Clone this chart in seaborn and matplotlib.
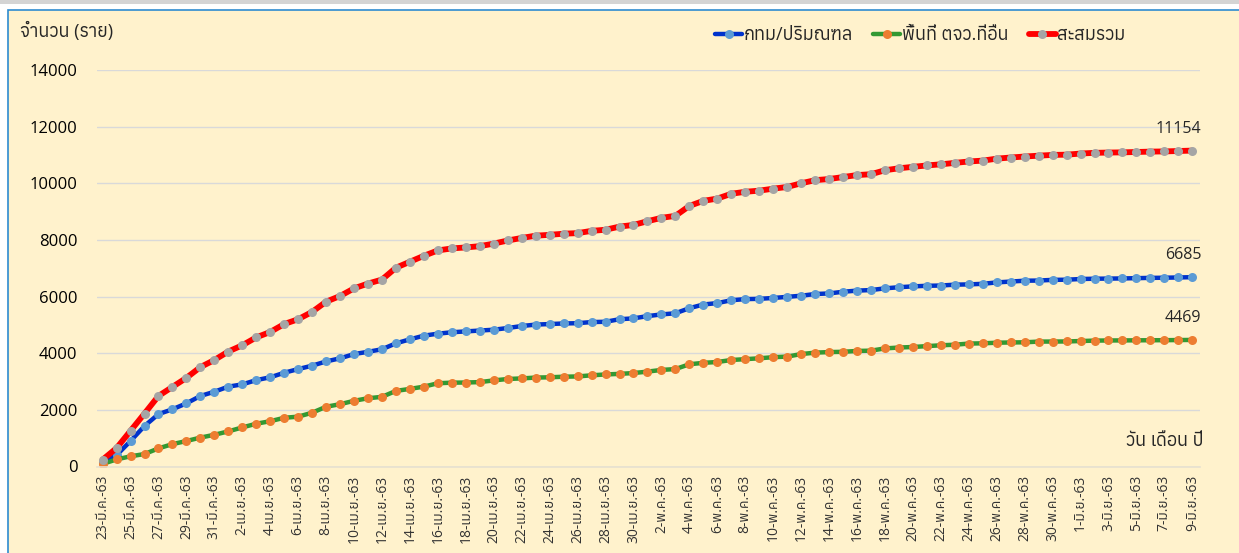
import numpy as np
import pandas as pd
import matplotlib
matplotlib.use("Agg")
import matplotlib.pyplot as plt
import matplotlib.patches as patches
from matplotlib import font_manager, ft2font
import seaborn as sns

# Date labels (every day from 23 Mar 63 to 9 Jun 63)
months = ["มี.ค.", "เม.ย.", "พ.ค.", "มิ.ย."]
month_days = [range(23, 32), range(1, 31), range(1, 32), range(1, 10)]
dates = [f"{d}-{m}-63" for m, days in zip(months, month_days) for d in days]

bkk = [150, 400, 900, 1430, 1850, 2020, 2230, 2490, 2640, 2820,
       2900, 3050, 3150, 3310, 3440, 3560, 3710, 3820, 3970, 4050,
       4140, 4350, 4490, 4620, 4690, 4740, 4770, 4800, 4830, 4890,
       4960, 5010, 5030, 5050, 5060, 5100, 5110, 5200, 5230, 5310,
       5370, 5410, 5590, 5720, 5770, 5870, 5910, 5920, 5950, 5990,
       6030, 6090, 6110, 6170, 6210, 6230, 6290, 6330, 6360, 6380,
       6390, 6420, 6430, 6450, 6500, 6530, 6560, 6565, 6590, 6595,
       6620, 6630, 6635, 6640, 6650, 6660, 6665, 6675, 6685]

other = [90, 250, 360, 440, 640, 790, 900, 1020, 1120, 1240,
         1380, 1510, 1600, 1720, 1760, 1900, 2110, 2200, 2320, 2410,
         2460, 2670, 2740, 2820, 2940, 2960, 2965, 2980, 3040, 3090,
         3110, 3140, 3150, 3170, 3180, 3220, 3250, 3270, 3300, 3350,
         3410, 3440, 3610, 3660, 3690, 3760, 3790, 3820, 3860, 3880,
         3970, 4020, 4040, 4050, 4080, 4090, 4170, 4200, 4220, 4250,
         4280, 4300, 4340, 4350, 4370, 4380, 4385, 4410, 4412, 4415,
         4430, 4445, 4450, 4452, 4455, 4458, 4460, 4465, 4469]

total = [240, 650, 1260, 1870, 2490, 2810, 3130, 3510, 3760, 4060,
         4280, 4560, 4750, 5030, 5200, 5460, 5820, 6020, 6290, 6460,
         6600, 7020, 7230, 7440, 7630, 7700, 7735, 7780, 7870, 7980,
         8070, 8150, 8180, 8220, 8240, 8320, 8360, 8470, 8530, 8660,
         8780, 8850, 9200, 9380, 9460, 9630, 9700, 9740, 9810, 9870,
         10000, 10110, 10150, 10220, 10290, 10320, 10460, 10530, 10580, 10630,
         10670, 10720, 10770, 10800, 10870, 10910, 10945, 10975, 11002, 11010,
         11050, 11075, 11085, 11092, 11105, 11118, 11125, 11140, 11154]

series_names = ["กทม/ปริมณฑล", "พื้นที่ ตจว.ที่อื่น", "สะสมรวม"]

df = pd.DataFrame({"day": np.arange(len(dates)), "date": dates,
                   series_names[0]: bkk, series_names[1]: other, series_names[2]: total})

sns.set_theme(style="white")

# find an installed font that has Thai glyphs
thai_fonts = []
for f in font_manager.fontManager.ttflist:
    try:
        if 0x0E01 in ft2font.FT2Font(f.fname).get_charmap():
            thai_fonts.append(f.name)
    except Exception:
        pass
plt.rcParams["font.family"] = ["Open Sans"] + sorted(set(thai_fonts))[:1] + ["DejaVu Sans"]

bg = "#FFF2CC"
fig = plt.figure(figsize=(12.39, 5.53), dpi=100, facecolor="white")

# chart frame
fig.patches.append(patches.Rectangle((8 / 1239, -0.02), 1.0, 1 - 10 / 553 + 0.02,
                                     transform=fig.transFigure, facecolor=bg,
                                     edgecolor="#2E8BD0", linewidth=1.2, zorder=-2))
fig.patches.append(patches.Rectangle((0, 1 - 4 / 553), 1, 4 / 553,
                                     transform=fig.transFigure, facecolor="#D4D4D4",
                                     edgecolor="none", zorder=-1))

ax = fig.add_axes([97 / 1239, 1 - 466.5 / 553, (1200 - 97) / 1239, (466.5 - 70) / 553])
ax.set_facecolor("none")

styles = [
    dict(color="#0033CC", markerfacecolor="#5B9BD5", lw=3.2),
    dict(color="#339933", markerfacecolor="#ED7D31", lw=3.2),
    dict(color="#FF0000", markerfacecolor="#A5A5A5", lw=4.2),
]

for name, st in zip(series_names, styles):
    sns.lineplot(data=df, x="day", y=name, ax=ax, label=name, color=st["color"],
                 linewidth=st["lw"], marker="o", markersize=6.5,
                 markerfacecolor=st["markerfacecolor"],
                 markeredgecolor=st["markerfacecolor"], markeredgewidth=0)

ax.set_xlim(-0.4, len(dates) - 0.45)
ax.set_ylim(0, 14000)
ax.set_yticks(range(0, 14001, 2000))
ax.set_xticks(df["day"][::2])
ax.set_xticklabels(df["date"][::2], rotation=90, fontsize=10)
ax.tick_params(axis="y", labelsize=12, pad=14, length=0, labelcolor="#000000")
ax.tick_params(axis="x", length=0, pad=6, labelcolor="#333333")
ax.grid(axis="y", color="#D9D9D9", linewidth=1)
ax.grid(axis="x", visible=False)
for s in ["top", "right", "left"]:
    ax.spines[s].set_visible(False)
ax.spines["bottom"].set_color("#E6E0D0")
ax.spines["bottom"].set_linewidth(1.2)
ax.set_xlabel("")
ax.set_ylabel("")

# end labels
for vals in [total, bkk, other]:
    ax.annotate(f"{vals[-1]}", (len(vals) - 1, vals[-1]), xytext=(9, 22),
                textcoords="offset pixels", ha="right", va="center", fontsize=11.5,
                color="#262626")

ax.get_legend().remove()
handles, labels = ax.get_legend_handles_labels()
fig.legend(handles, labels, loc="center right", bbox_to_anchor=(1142 / 1239, 1 - 35 / 553),
           ncol=3, frameon=False, fontsize=13, handlelength=1.5, handletextpad=0.1,
           columnspacing=1.1)

fig.text(20 / 1239, 1 - 31 / 553, "จำนวน (ราย)", fontsize=13, va="center", ha="left",
         color="#262626")
fig.text(1203 / 1239, 1 - 441 / 553, "วัน เดือน ปี", fontsize=13, va="center", ha="right",
         color="#262626")

fig.savefig("out.png", dpi=100, facecolor=fig.get_facecolor())
